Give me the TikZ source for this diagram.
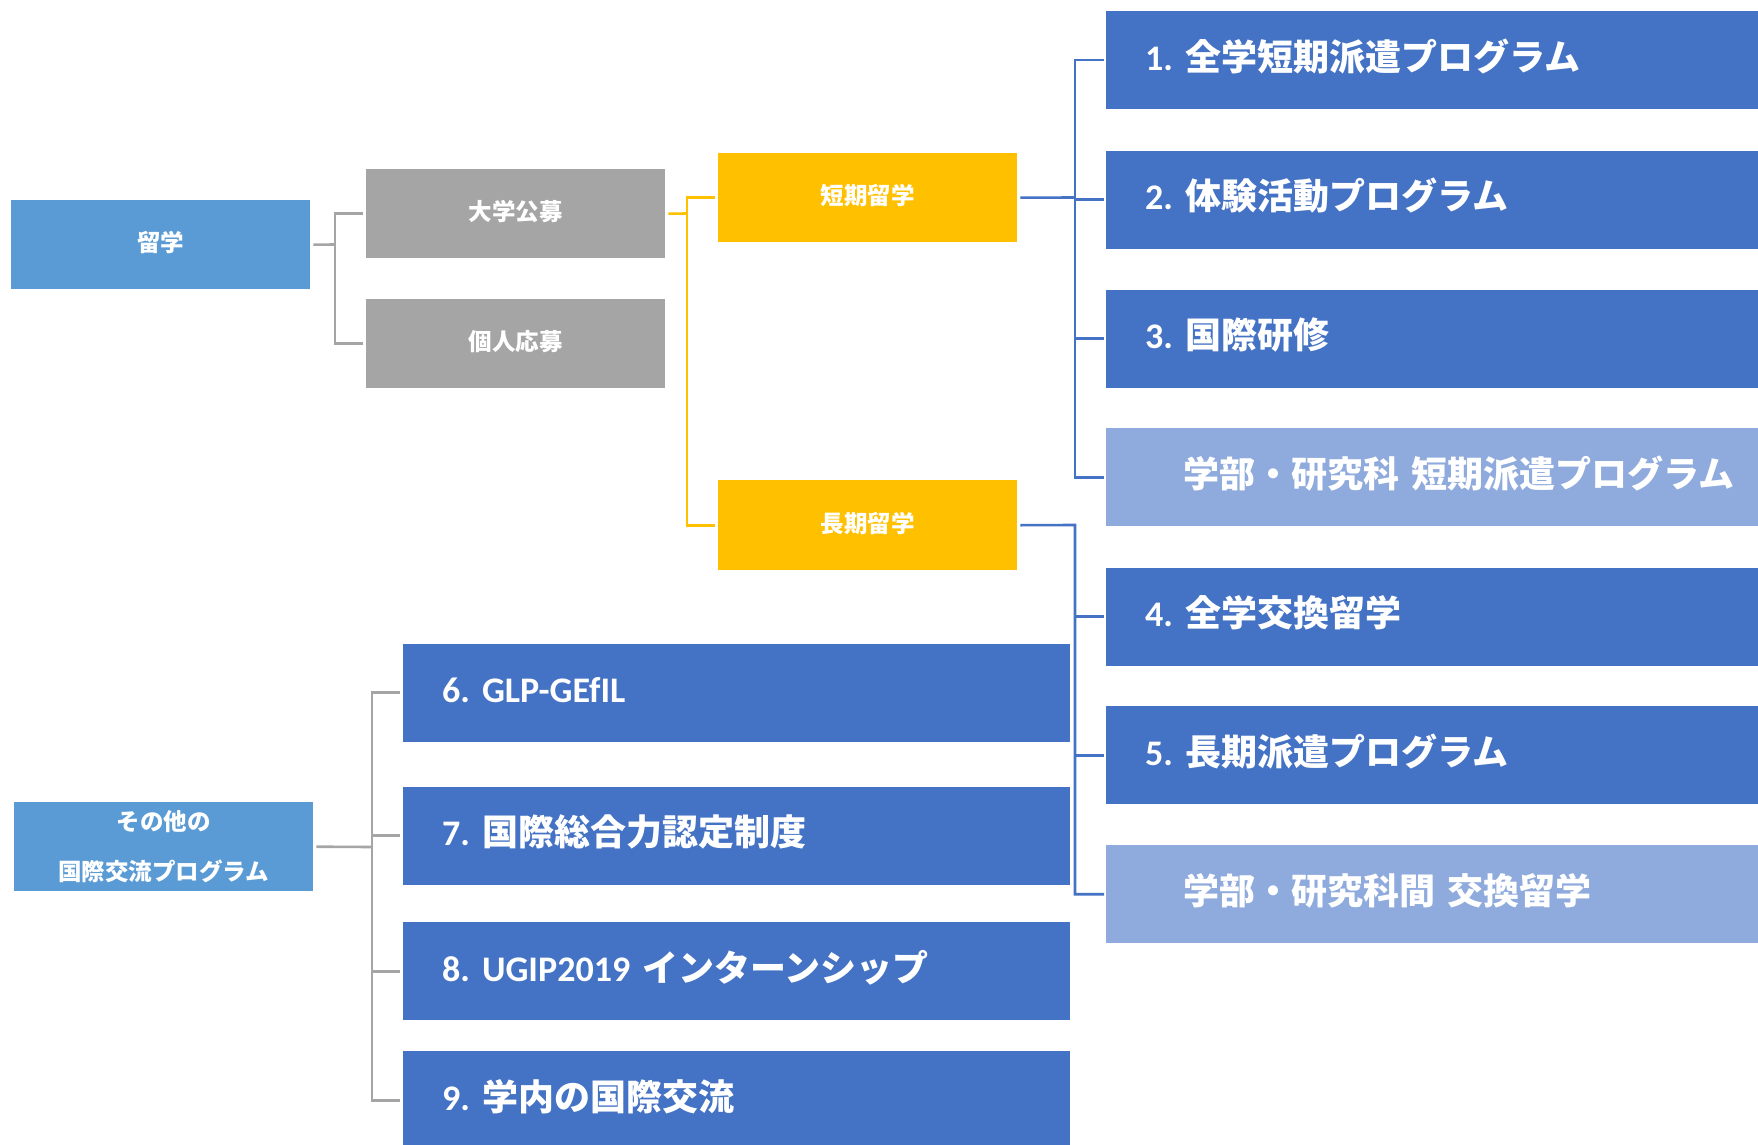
\documentclass[tikz,border=0pt]{standalone}
\usepackage{fontspec}
\setmainfont{Noto Sans CJK JP}
\newfontfamily\lat{Carlito}[UprightFont={* Bold}, BoldFont={* Bold}]
\frenchspacing
\definecolor{ryublue}{HTML}{5B9BD5}
\definecolor{boxgray}{HTML}{A5A5A5}
\definecolor{boxorange}{HTML}{FFC000}
\definecolor{darkblue}{HTML}{4472C4}
\definecolor{lightblue}{HTML}{8FAADC}
\begin{document}
\begin{tikzpicture}[x=1pt,y=-1pt,
  sbox/.style={rectangle, anchor=north west, inner sep=0pt, minimum width=299pt, minimum height=89pt,
    text=white, font=\fontsize{23.5}{28}\selectfont\bfseries, text height=20pt, text depth=6pt},
  bbox/.style={rectangle, anchor=north west, inner ysep=0pt, inner xsep=39pt, minimum height=98pt,
    text width=#1, align=left, text=white, font=\fontsize{36}{42}\selectfont\bfseries,
    text height=32pt, text depth=12pt},
  lbox/.style={bbox=700pt, inner xsep=77pt, fill=lightblue},
  gline/.style={draw=boxgray, line width=2.6pt},
  oline/.style={draw=boxorange, line width=2.6pt},
  bline/.style={draw=darkblue, line width=2.6pt}]
\useasboundingbox (0,0) rectangle (1758,1145);

% level boxes
\node[sbox, fill=ryublue] (ryu) at (11,200) {留学};
\node[sbox, fill=boxgray] (daigaku) at (366,169) {大学公募};
\node[sbox, fill=boxgray] (kojin) at (366,299) {個人応募};
\node[sbox, fill=boxorange] (tanki) at (718,153) {短期留学};
\node[sbox, fill=boxorange, minimum height=90pt] (choki) at (718,480) {長期留学};
\node[sbox, fill=ryublue, align=center, font=\fontsize{23.5}{50}\selectfont\bfseries, text height=, text depth=] (sonota) at (14,802) {その他の\\国際交流プログラム};

% program boxes (right)
\node[bbox=642pt, fill=darkblue] (p1) at (1106,11) {{\lat 1. }全学短期派遣プログラム};
\node[bbox=642pt, fill=darkblue] (p2) at (1106,150.5) {{\lat 2. }体験活動プログラム};
\node[bbox=642pt, fill=darkblue] (p3) at (1106,289.5) {{\lat 3. }国際研修};
\node[lbox] (l1) at (1106,428) {学部・研究科 短期派遣プログラム};
\node[bbox=642pt, fill=darkblue] (p4) at (1106,567.5) {{\lat 4. }全学交換留学};
\node[bbox=642pt, fill=darkblue] (p5) at (1106,706) {{\lat 5. }長期派遣プログラム};
\node[lbox] (l2) at (1106,845) {学部・研究科間 交換留学};

% program boxes (lower left)
\node[bbox=589pt, fill=darkblue] (p6) at (403,643.5) {{\lat 6. GLP-GEfIL}};
\node[bbox=589pt, fill=darkblue] (p7) at (403,786.5) {{\lat 7. }国際総合力認定制度};
\node[bbox=589pt, fill=darkblue] (p8) at (403,922) {{\lat 8. UGIP2019 }インターンシップ};
\node[bbox=589pt, fill=darkblue] (p9) at (403,1051) {{\lat 9. }学内の国際交流};

% connectors
\coordinate (g1) at (335,244.5);
\draw[gline] ([xshift=3pt]ryu.east) -- (g1);
\draw[gline] ([xshift=-3pt]daigaku.west) -| (g1) |- ([xshift=-3pt]kojin.west);

\coordinate (o1) at (687,213.5);
\draw[oline] ([xshift=3pt]daigaku.east) -- (o1);
\draw[oline] ([xshift=-3pt]tanki.west) -| (o1) |- ([xshift=-3pt]choki.west);

\coordinate (b1) at (1075,197.5);
\draw[bline] ([xshift=3pt]tanki.east) -- (b1);
\draw[bline] ([xshift=-2pt]p1.west) -| (b1) |- ([xshift=-2pt]l1.west);
\draw[bline] (b1 |- p2.west) -- ([xshift=-2pt]p2.west);
\draw[bline] (b1 |- p3.west) -- ([xshift=-2pt]p3.west);

\coordinate (b2) at (1075,525);
\draw[bline] ([xshift=3pt]choki.east) -- (b2) |- ([xshift=-2pt]l2.west);
\draw[bline] (b2 |- p4.west) -- ([xshift=-2pt]p4.west);
\draw[bline] (b2 |- p5.west) -- ([xshift=-2pt]p5.west);

\coordinate (g2) at (372,847);
\draw[gline] ([xshift=3pt]sonota.east) -- (g2);
\draw[gline] ([xshift=-3pt]p6.west) -| (g2) |- ([xshift=-3pt]p9.west);
\draw[gline] (g2 |- p7.west) -- ([xshift=-3pt]p7.west);
\draw[gline] (g2 |- p8.west) -- ([xshift=-3pt]p8.west);
\end{tikzpicture}
\end{document}
